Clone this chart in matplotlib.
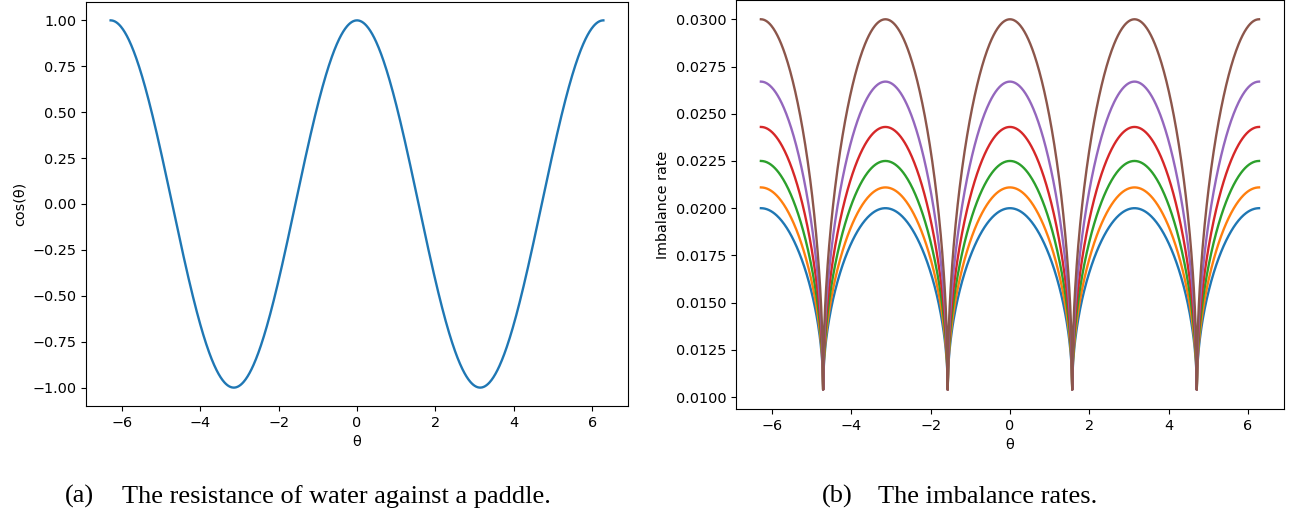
import numpy as np
import matplotlib
matplotlib.use("Agg")
import matplotlib.pyplot as plt

# angle range shown on both panels
THETA_MIN = -2 * np.pi
THETA_MAX = 2 * np.pi
N_POINTS = 1001

# panel (b): peak value of each curve and common cusp value
peak_rates = [0.0200, 0.0211, 0.0225, 0.0243, 0.0267, 0.0300]
trough_rate = 0.0104

caption_a = "The resistance of water against a paddle."
caption_b = "The imbalance rates."

plt.rcParams["font.size"] = 10.4
plt.rcParams["lines.linewidth"] = 1.7

theta = np.linspace(THETA_MIN, THETA_MAX, N_POINTS)
resistance = np.cos(theta)

fig = plt.figure(figsize=(12.93, 5.15), dpi=100)

ax1 = fig.add_axes([0.0665, 0.2117, 0.4192, 0.7844])
ax1.plot(theta, resistance, color="#1f77b4")
ax1.set_xlabel("θ")
ax1.set_ylabel("cos(θ)")
ax1.set_xticks([-6, -4, -2, 0, 2, 4, 6])
ax1.set_yticks(np.arange(-1.0, 1.01, 0.25))
ax1.yaxis.set_major_formatter(matplotlib.ticker.StrMethodFormatter("{x:.2f}"))

ax2 = fig.add_axes([0.5692, 0.2058, 0.4238, 0.7942])
for peak in peak_rates:
    rate = trough_rate + (peak - trough_rate) * np.sqrt(np.abs(np.cos(theta)))
    ax2.plot(theta, rate)
ax2.set_xlabel("θ")
ax2.set_ylabel("Imbalance rate")
ax2.set_xticks([-6, -4, -2, 0, 2, 4, 6])
ax2.set_yticks(np.arange(0.0100, 0.03001, 0.0025))
ax2.yaxis.set_major_formatter(matplotlib.ticker.StrMethodFormatter("{x:.4f}"))
ax2.set_ylim(0.00937, 0.03102)

serif = dict(family="Liberation Serif", fontsize=19, va="baseline", ha="left")
fig.text(65 / 1293, 0.0233, "(a)", **serif)
fig.text(122 / 1293, 0.0233, caption_a, **serif)
fig.text(822 / 1293, 0.0233, "(b)", **serif)
fig.text(878 / 1293, 0.0233, caption_b, **serif)

fig.savefig("out.png", dpi=100)
